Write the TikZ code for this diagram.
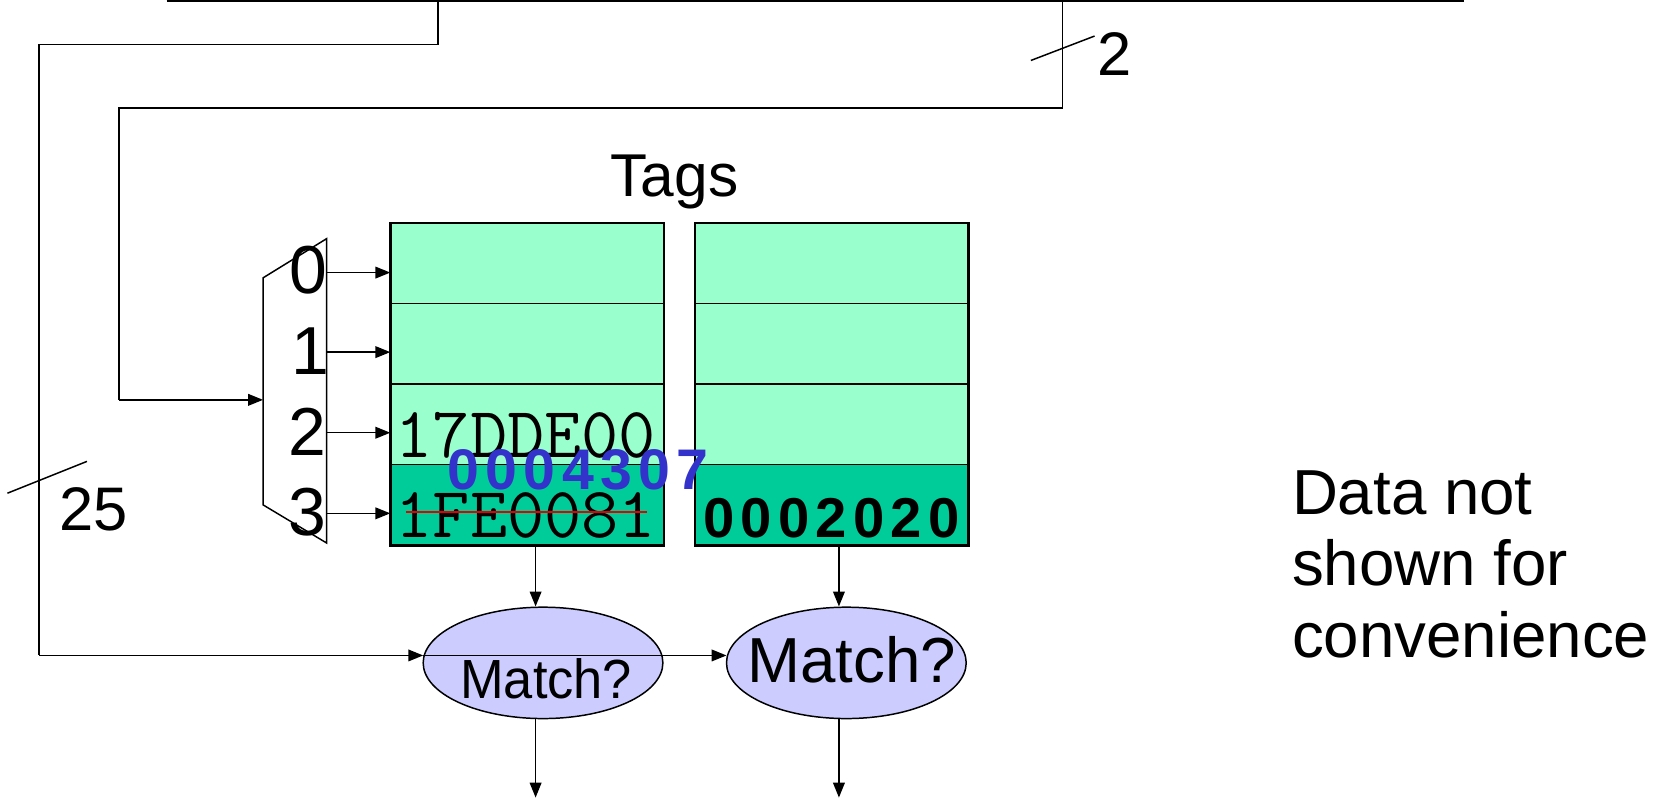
\documentclass[tikz,border=0pt]{standalone}
\usepackage{fontspec}
\setmainfont{Liberation Sans}
\newfontfamily\tagfont[LetterSpace=11]{Liberation Sans}
\usetikzlibrary{arrows.meta,shapes.geometric}
\newcommand\fsz[1]{\fontsize{#1}{#1}\selectfont}
\definecolor{tagLight}{HTML}{99FFCC}
\definecolor{tagDark}{HTML}{00CC99}
\definecolor{cmpFill}{HTML}{CCCCFF}
\definecolor{tagBlue}{HTML}{3333CC}
\definecolor{strike}{HTML}{E80000}
\begin{document}
\begin{tikzpicture}[x=1pt,y=-1pt,
  wire/.style={line width=1.4pt},
  arr/.style={wire,-{Triangle[length=14pt,width=11pt]}},
  row/.style={draw,line width=1.3pt,minimum width=257pt,minimum height=75.75pt,
              inner sep=0pt,anchor=north west,fill=tagLight},
  lastrow/.style={row,fill=tagDark},
  cmp/.style={ellipse,draw,fill=cmpFill,line width=1.4pt,minimum width=226pt,
              minimum height=105pt,inner sep=0pt},
  lbl/.style={inner sep=0pt}]
\useasboundingbox (0,0) rectangle (1568,756);

% address bus and its two taps
\coordinate (busL) at (157,1);
\coordinate (busR) at (1380,1);
\draw[wire] (busL) -- (busR);
\coordinate (tapA) at (413,1);
\coordinate (tapB) at (1002,1);
\coordinate (bendA1) at (413,42);
\coordinate (bendA2) at (37,42);
\coordinate (bendA3) at (37,618);
\coordinate (bendB1) at (1002,102);
\coordinate (bendB2) at (112,102);
\coordinate (bendB3) at (112,377);

% bit-width marks
\coordinate (slB1) at (972,57);  \coordinate (slB2) at (1032,34);
\coordinate (slA1) at (7,465);   \coordinate (slA2) at (82,435);
\draw[wire] (slB1) -- (slB2);
\draw[wire] (slA1) -- (slA2);
\node[lbl] (wb) at (1051,51) {\fsz{58}2};
\node[lbl] (wa) at (88,480) {\fsz{58}25};

% index decoder
\coordinate (mA) at (248,262);
\coordinate (mB) at (308,225);
\coordinate (mC) at (308,512);
\coordinate (mD) at (248,476);
\draw[wire] (mA) -- (mB) -- (mC) -- (mD) -- cycle;
\coordinate (muxin) at (248,377);
\draw[wire] (tapB) -- (bendB1) -- (bendB2) -- (bendB3);
\draw[arr] (bendB3) -- (muxin);

\node[lbl] (i0) at (291,255) {\fsz{64}0};
\node[lbl] (i1) at (293,331) {\fsz{64}1};
\node[lbl] (i2) at (290,407) {\fsz{64}2};
\node[lbl] (i3) at (290,483) {\fsz{64}3};

% tag arrays
\node[lbl] (tags) at (636,172) {\fsz{57}Tags};
\node[row]     (a0) at (368,210) {};
\node[row]     (a1) at (368,285.75) {};
\node[row]     (a2) at (368,361.5) {};
\node[lastrow] (a3) at (368,437.25) {};
\node[row]     (b0) at (655,210) {};
\node[row]     (b1) at (655,285.75) {};
\node[row]     (b2) at (655,361.5) {};
\node[lastrow] (b3) at (655,437.25) {};
\draw[line width=2pt] (a0.north west) rectangle (a3.south east);
\draw[line width=2pt] (b0.north west) rectangle (b3.south east);

\coordinate (o0) at (308,257);
\coordinate (o1) at (308,332);
\coordinate (o2) at (308,408);
\coordinate (o3) at (308,484);
\draw[arr] (o0) -- (o0 -| a0.west);
\draw[arr] (o1) -- (o1 -| a1.west);
\draw[arr] (o2) -- (o2 -| a2.west);
\draw[arr] (o3) -- (o3 -| a3.west);

% stored tags
\node[lbl,anchor=base west] (t2) at (373,431) {\ttfamily\fsz{68}17DDE00};
\node[lbl,anchor=base west] (t3) at (373,507) {\ttfamily\fsz{68}1FE0081};
\draw[strike,line width=1.6pt] (383,482.5) -- (610,482.5);
\node[lbl,text=tagBlue] (newtag) at (545,443) {\tagfont\bfseries\fsz{54}0004307};
\node[lbl] (t3b) at (784,489) {\tagfont\bfseries\fsz{53}0002020};

% comparators
\node[cmp] (e1) at (512,625) {};
\node[cmp] (e2) at (798,625) {};
\node[lbl] (m1) at (515,640) {\fsz{52}\scalebox{0.95}[1]{Match?}};
\node[lbl] (m2) at (803,622) {\fsz{60}Match?};

\draw[arr] (a3.south -| 505,0) -- (e1.north -| 505,0);
\draw[arr] (b3.south -| 791,0) -- (e2.north -| 791,0);

\coordinate (e1in) at (399,618);
\coordinate (e2in) at (685,618);
\draw[wire] (tapA) -- (bendA1) -- (bendA2) -- (bendA3);
\draw[arr] (bendA3) -- (e1in);
\draw[arr] (e1in) -- (e2in);

\coordinate (out1) at (505,752);
\coordinate (out2) at (791,752);
\draw[arr] (e1.south -| out1) -- (out1);
\draw[arr] (e2.south -| out2) -- (out2);

% note
\node[lbl,anchor=north west,align=left,font=\fontsize{60}{67}\selectfont] (note) at (1218,444)
  {Data not\\shown for\\convenience};
\end{tikzpicture}
\end{document}
